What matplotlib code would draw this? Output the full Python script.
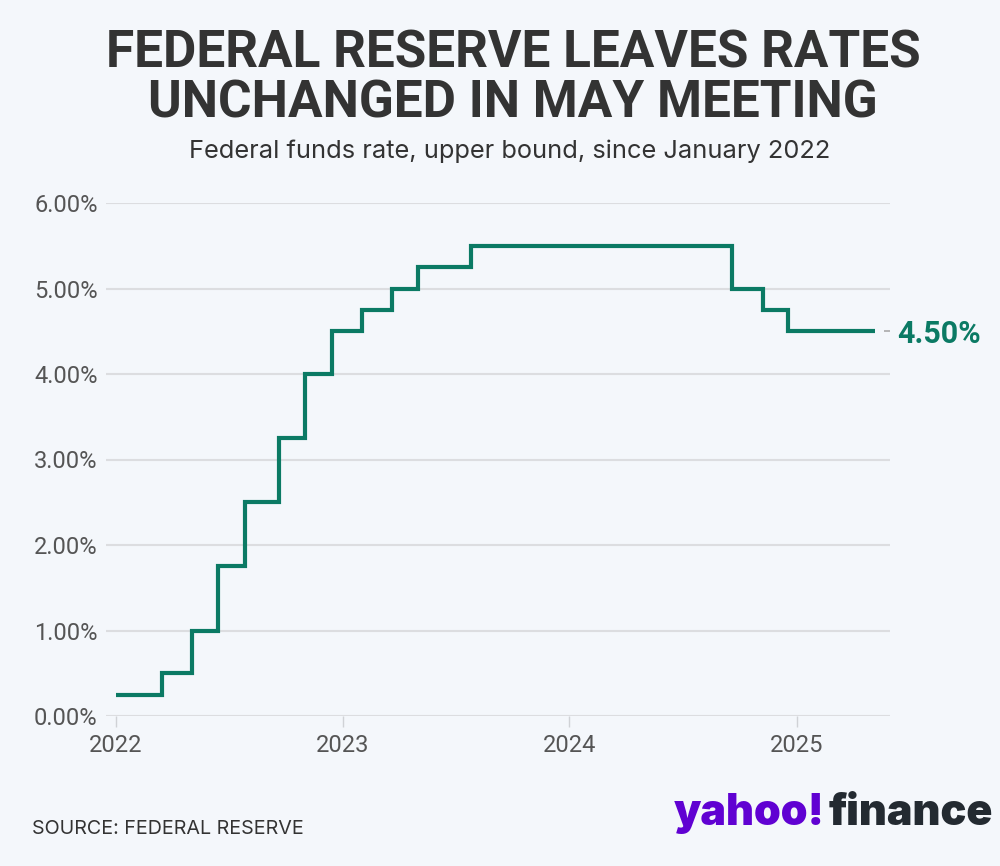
import matplotlib
matplotlib.use("Agg")
import matplotlib.pyplot as plt
from datetime import datetime

# ---- data ----
change_dates = ["2022-01-01", "2022-03-16", "2022-05-04", "2022-06-15", "2022-07-27",
                "2022-09-21", "2022-11-02", "2022-12-14", "2023-02-01", "2023-03-22",
                "2023-05-03", "2023-07-26", "2024-09-18", "2024-11-07", "2024-12-18",
                "2025-05-07"]
rates = [0.25, 0.50, 1.00, 1.75, 2.50, 3.25, 4.00, 4.50, 4.75, 5.00,
         5.25, 5.50, 5.00, 4.75, 4.50, 4.50]
y_ticks = [0, 1, 2, 3, 4, 5, 6]
x_tick_years = [2022, 2023, 2024, 2025]

title_lines = ["FEDERAL RESERVE LEAVES RATES", "UNCHANGED IN MAY MEETING"]
subtitle = "Federal funds rate, upper bound, since January 2022"
source = "SOURCE: FEDERAL RESERVE"

# ---- style ----
BG = "#f4f7fb"
GREEN = "#0b7a64"
DARK = "#333333"
GRAY = "#555555"
GRID = "#dcdde0"
INTER = ["Inter", "Roboto", "DejaVu Sans"]
ROBOTO = ["Roboto", "Inter", "DejaVu Sans"]

plt.rcParams["font.family"] = ROBOTO

fig = plt.figure(figsize=(10, 8.66), dpi=100, facecolor=BG)
ax = fig.add_axes([0.106, 1 - 716 / 866, 0.784, (716 - 203) / 866])
ax.set_facecolor(BG)

dates = [datetime.strptime(d, "%Y-%m-%d") for d in change_dates]
ax.step(dates, rates, where="post", color=GREEN, lw=3.0,
        solid_joinstyle="miter", solid_capstyle="butt", zorder=3)

ax.set_ylim(0, 6)
ax.set_xlim(datetime(2021, 12, 16), datetime(2025, 5, 31))

ax.set_yticks(y_ticks)
ax.set_yticklabels([f"{v:.2f}%" for v in y_ticks])
ax.set_xticks([datetime(y, 1, 1) for y in x_tick_years])
ax.set_xticklabels([str(y) for y in x_tick_years])

ax.grid(axis="y", color=GRID, lw=1.5, zorder=1)
ax.grid(axis="x", visible=False)
for s in ax.spines.values():
    s.set_visible(False)

ax.tick_params(axis="y", length=0, pad=6, labelsize=17, labelcolor=GRAY)
ax.tick_params(axis="x", length=8, width=1, color="#d0d2d6", pad=5,
               labelsize=17, labelcolor=GRAY)

# right-hand last-value label
ax2 = ax.twinx()
ax2.set_ylim(ax.get_ylim())
ax2.set_yticks([rates[-1]])
ax2.set_yticklabels([f"{rates[-1]:.2f}%"])
ax2.tick_params(axis="y", direction="in", length=4.5, width=1.2, color="#aaaaaa",
                pad=5, labelsize=22, labelcolor=GREEN)
for lbl in ax2.get_yticklabels():
    lbl.set_fontweight("bold")
for s in ax2.spines.values():
    s.set_visible(False)

# titles
fig.text(0.513, 1 - 68 / 866, title_lines[0], ha="center", va="baseline",
         fontsize=37, fontweight="bold", color=DARK, family=ROBOTO)
fig.text(0.513, 1 - 117 / 866, title_lines[1], ha="center", va="baseline",
         fontsize=37, fontweight="bold", color=DARK, family=ROBOTO)
fig.text(0.51, 1 - 158 / 866, subtitle, ha="center", va="baseline",
         fontsize=18.3, color=DARK, family=INTER)

# footer
fig.text(0.032, 1 - 834 / 866, source, ha="left", va="baseline",
         fontsize=14.2, color=DARK, family=INTER)
fig.text(0.825, 1 - 825 / 866, "yahoo!", ha="right", va="baseline",
         fontsize=31, fontweight=900, color="#6001d2", family=INTER)
fig.text(0.829, 1 - 825 / 866, "finance", ha="left", va="baseline",
         fontsize=31, fontweight=900, color="#232a31", family=INTER)

fig.savefig("out.png", dpi=100, facecolor=BG)
